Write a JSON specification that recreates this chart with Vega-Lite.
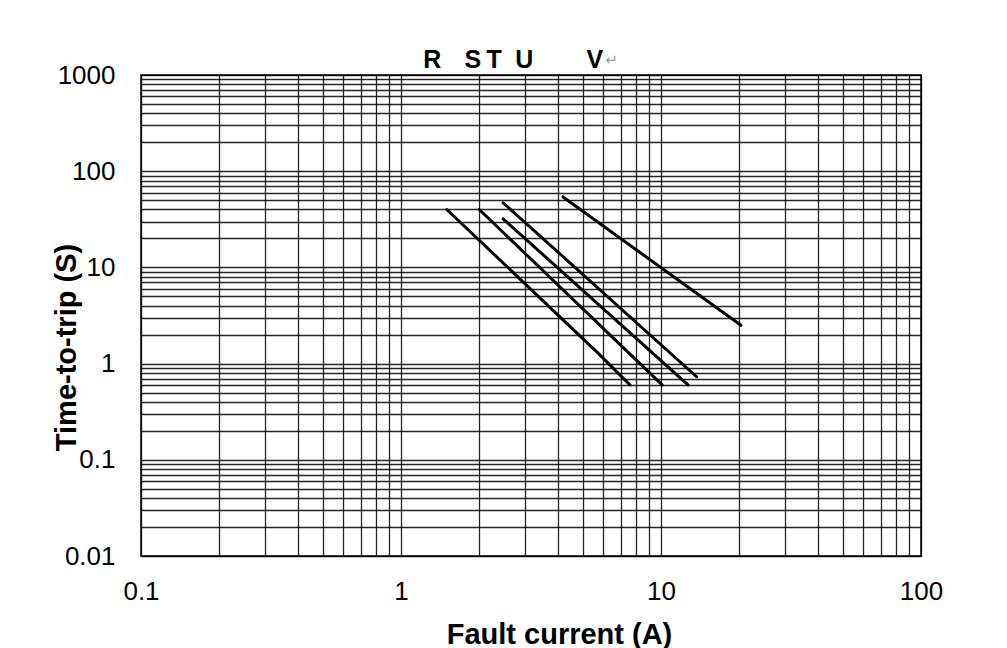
{
  "$schema": "https://vega.github.io/schema/vega-lite/v6.json",
  "width": 780,
  "height": 481,
  "autosize": {"type": "none"},
  "padding": {"left": 141, "top": 75, "right": 86, "bottom": 92},
  "background": "white",
  "config": {
    "view": {"stroke": "black", "strokeWidth": 1.5},
    "font": "Liberation Sans"
  },
  "datasets": {
    "curves": [
      {"curve": "R", "current": 1.5, "time": 40},
      {"curve": "R", "current": 5.7, "time": 1.3},
      {"curve": "R", "current": 7.6, "time": 0.6},
      {"curve": "S", "current": 2.0, "time": 40},
      {"curve": "S", "current": 10.1, "time": 0.6},
      {"curve": "T", "current": 2.47, "time": 32},
      {"curve": "T", "current": 12.7, "time": 0.6},
      {"curve": "U", "current": 2.47, "time": 47},
      {"curve": "U", "current": 13.7, "time": 0.73},
      {"curve": "V", "current": 4.2, "time": 54},
      {"curve": "V", "current": 20.3, "time": 2.5}
    ],
    "letters": [
      {"label": "R", "current": 1.32},
      {"label": "S", "current": 1.89},
      {"label": "T", "current": 2.28},
      {"label": "U", "current": 2.98},
      {"label": "V", "current": 5.57}
    ],
    "mark": [
      {"label": "↵", "current": 6.45}
    ]
  },
  "layer": [
    {
      "data": {"name": "curves"},
      "mark": {"type": "line", "color": "black", "strokeWidth": 3, "strokeCap": "round"},
      "encoding": {
        "x": {
          "field": "current",
          "type": "quantitative",
          "scale": {"type": "log", "domain": [0.1, 100], "nice": false},
          "axis": {
            "title": "Fault current (A)",
            "values": [0.1, 0.2, 0.3, 0.4, 0.5, 0.6, 0.7, 0.8, 0.9, 1, 2, 3, 4, 5, 6, 7, 8, 9, 10, 20, 30, 40, 50, 60, 70, 80, 90, 100],
            "labelExpr": "abs(log(datum.value)/LN10 - round(log(datum.value)/LN10)) < 0.001 ? format(datum.value, '~g') : ''",
            "labelOverlap": false,
            "labelFlush": false,
            "labelFont": "Liberation Sans",
            "labelFontSize": 26,
            "labelColor": "black",
            "labelPadding": 22,
            "ticks": false,
            "tickSize": 0,
            "domain": false,
            "grid": true,
            "gridColor": "black",
            "gridOpacity": 0.85,
            "gridWidth": 1.3,
            "titleFont": "Liberation Sans",
            "titleFontSize": 29,
            "titleFontWeight": "bold",
            "titleColor": "black",
            "titleX": 418,
            "titleY": 87,
            "titleBaseline": "alphabetic",
            "titleAlign": "center"
          }
        },
        "y": {
          "field": "time",
          "type": "quantitative",
          "scale": {"type": "log", "domain": [0.01, 1000], "nice": false},
          "axis": {
            "title": "Time-to-trip (S)",
            "values": [0.01, 0.02, 0.03, 0.04, 0.05, 0.06, 0.07, 0.08, 0.09, 0.1, 0.2, 0.3, 0.4, 0.5, 0.6, 0.7, 0.8, 0.9, 1, 2, 3, 4, 5, 6, 7, 8, 9, 10, 20, 30, 40, 50, 60, 70, 80, 90, 100, 200, 300, 400, 500, 600, 700, 800, 900, 1000],
            "labelExpr": "abs(log(datum.value)/LN10 - round(log(datum.value)/LN10)) < 0.001 ? format(datum.value, '~g') : ''",
            "labelOverlap": false,
            "labelFlush": false,
            "labelFont": "Liberation Sans",
            "labelFontSize": 26,
            "labelColor": "black",
            "labelPadding": 26,
            "ticks": false,
            "tickSize": 0,
            "domain": false,
            "grid": true,
            "gridColor": "black",
            "gridOpacity": 0.85,
            "gridWidth": 1.3,
            "titleFont": "Liberation Sans",
            "titleFontSize": 29,
            "titleFontWeight": "bold",
            "titleColor": "black",
            "titleAngle": 270,
            "titleX": -66,
            "titleY": 272,
            "titleBaseline": "alphabetic",
            "titleAlign": "center"
          }
        },
        "detail": {"field": "curve"}
      }
    },
    {
      "data": {"name": "letters"},
      "mark": {"type": "text", "font": "Liberation Sans", "fontWeight": "bold", "fontSize": 25, "baseline": "alphabetic", "align": "center", "color": "black"},
      "encoding": {
        "x": {"field": "current", "type": "quantitative"},
        "y": {"datum": 1183},
        "text": {"field": "label"}
      }
    },
    {
      "data": {"name": "mark"},
      "mark": {"type": "text", "font": "DejaVu Sans", "fontSize": 15, "baseline": "alphabetic", "align": "center", "color": "#999999"},
      "encoding": {
        "x": {"field": "current", "type": "quantitative"},
        "y": {"datum": 1270},
        "text": {"field": "label"}
      }
    }
  ]
}
